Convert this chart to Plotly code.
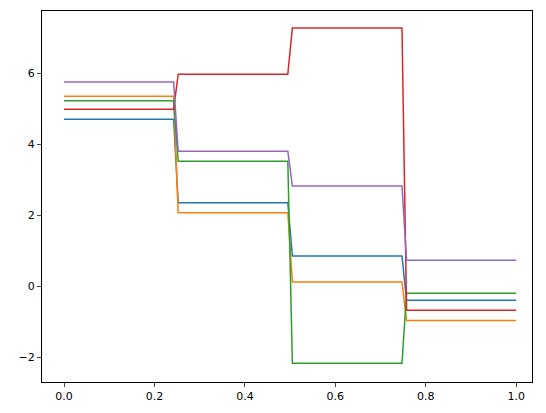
import numpy as np
import plotly.graph_objects as go

n_points = 100
breaks = [0.25, 0.5, 0.75]
series_names = ["s0", "s1", "s2", "s3", "s4"]
segment_values = {
    "s0": [4.70, 2.35, 0.85, -0.40],
    "s1": [5.35, 2.07, 0.12, -0.97],
    "s2": [5.22, 3.52, -2.17, -0.20],
    "s3": [4.98, 5.97, 7.27, -0.68],
    "s4": [5.75, 3.80, 2.82, 0.73],
}
colors = ["#1f77b4", "#ff7f0e", "#2ca02c", "#d62728", "#9467bd"]

x = np.linspace(0, 1, n_points)
idx = np.searchsorted(breaks, x, side="right")

fig = go.Figure()
for name, c in zip(series_names, colors):
    vals = np.array(segment_values[name])[idx]
    fig.add_trace(go.Scatter(x=x, y=vals, mode="lines", name=name,
                             line=dict(color=c, width=1.5)))

ax = dict(showgrid=False, zeroline=False, showline=True, linecolor="black",
          linewidth=1, mirror=True, ticks="outside", ticklen=4,
          tickfont=dict(family="DejaVu Sans", size=11, color="black"))
fig.update_layout(
    width=546, height=413, showlegend=False,
    plot_bgcolor="white", paper_bgcolor="white",
    margin=dict(l=34, r=22, t=3, b=39),
    xaxis=dict(range=[-0.0487, 1.035], tickvals=[0, 0.2, 0.4, 0.6, 0.8, 1.0],
               ticktext=["0.0", "0.2", "0.4", "0.6", "0.8", "1.0"], **ax),
    yaxis=dict(range=[-2.70, 7.75], tickvals=[-2, 0, 2, 4, 6], **ax),
)
fig.write_html("out.html")
